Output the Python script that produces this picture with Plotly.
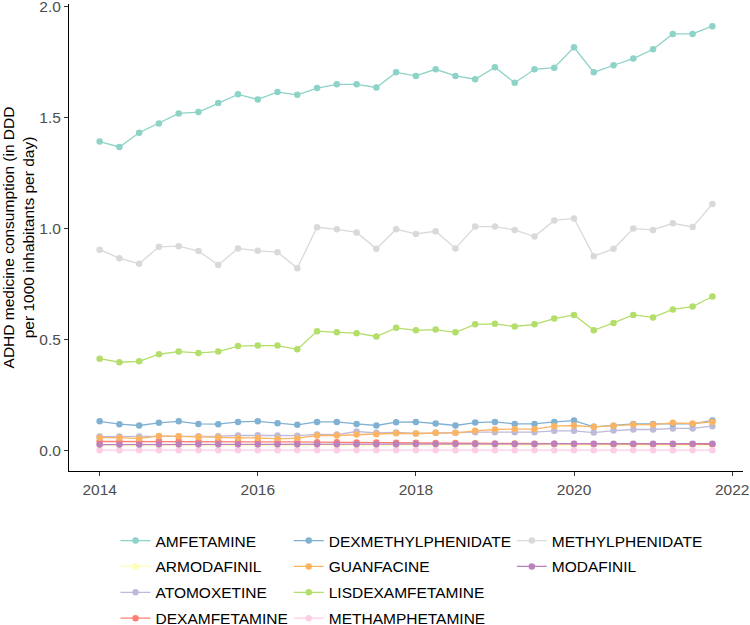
import plotly.graph_objects as go

quarters = [2014.00, 2014.25, 2014.50, 2014.75, 2015.00, 2015.25, 2015.50, 2015.75,
            2016.00, 2016.25, 2016.50, 2016.75, 2017.00, 2017.25, 2017.50, 2017.75,
            2018.00, 2018.25, 2018.50, 2018.75, 2019.00, 2019.25, 2019.50, 2019.75,
            2020.00, 2020.25, 2020.50, 2020.75, 2021.00, 2021.25, 2021.50, 2021.75]

amfetamine = [1.391, 1.367, 1.431, 1.473, 1.518, 1.524, 1.565, 1.604, 1.581, 1.614, 1.602, 1.632,
              1.649, 1.649, 1.635, 1.703, 1.687, 1.717, 1.687, 1.672, 1.726, 1.656, 1.717, 1.724,
              1.816, 1.703, 1.735, 1.765, 1.807, 1.876, 1.876, 1.911]
armodafinil = [0.024, 0.024, 0.024, 0.024, 0.024, 0.024, 0.024, 0.024, 0.024, 0.024, 0.024, 0.024,
               0.024, 0.024, 0.024, 0.024, 0.024, 0.024, 0.024, 0.024, 0.024, 0.024, 0.024, 0.024,
               0.024, 0.024, 0.024, 0.024, 0.024, 0.024, 0.024, 0.024]
atomoxetine = [0.062, 0.062, 0.062, 0.063, 0.063, 0.063, 0.064, 0.067, 0.068, 0.067, 0.066, 0.072,
               0.071, 0.085, 0.079, 0.081, 0.076, 0.079, 0.079, 0.082, 0.082, 0.082, 0.082, 0.088,
               0.088, 0.080, 0.089, 0.094, 0.094, 0.099, 0.099, 0.109]
dexamfetamine = [0.040, 0.040, 0.040, 0.041, 0.041, 0.040, 0.040, 0.039, 0.039, 0.038, 0.038, 0.037,
                 0.036, 0.035, 0.035, 0.034, 0.034, 0.033, 0.033, 0.032, 0.031, 0.031, 0.030, 0.030,
                 0.029, 0.029, 0.028, 0.028, 0.028, 0.027, 0.027, 0.027]
dexmethylphenidate = [0.131, 0.118, 0.112, 0.124, 0.131, 0.119, 0.118, 0.128, 0.131, 0.122, 0.115, 0.128,
                      0.128, 0.119, 0.112, 0.127, 0.128, 0.121, 0.112, 0.125, 0.128, 0.119, 0.119, 0.128,
                      0.134, 0.106, 0.111, 0.119, 0.119, 0.119, 0.119, 0.135]
guanfacine = [0.057, 0.057, 0.053, 0.065, 0.063, 0.060, 0.058, 0.056, 0.056, 0.052, 0.055, 0.067,
              0.067, 0.071, 0.073, 0.077, 0.076, 0.079, 0.079, 0.088, 0.094, 0.096, 0.096, 0.109,
              0.112, 0.106, 0.111, 0.116, 0.116, 0.124, 0.121, 0.128]
lisdexamfetamine = [0.413, 0.397, 0.401, 0.433, 0.445, 0.439, 0.445, 0.470, 0.472, 0.472, 0.455, 0.537,
                    0.532, 0.528, 0.513, 0.552, 0.541, 0.544, 0.532, 0.568, 0.570, 0.558, 0.568, 0.594,
                    0.610, 0.541, 0.574, 0.610, 0.599, 0.635, 0.648, 0.693]
methamphetamine = [0.001, 0.001, 0.001, 0.001, 0.001, 0.001, 0.001, 0.001, 0.001, 0.001, 0.001, 0.001,
                   0.001, 0.001, 0.001, 0.001, 0.001, 0.001, 0.001, 0.001, 0.001, 0.001, 0.001, 0.001,
                   0.001, 0.001, 0.001, 0.001, 0.001, 0.001, 0.001, 0.001]
methylphenidate = [0.904, 0.866, 0.841, 0.917, 0.920, 0.898, 0.835, 0.910, 0.899, 0.893, 0.821, 1.005,
                   0.996, 0.982, 0.908, 0.996, 0.975, 0.987, 0.910, 1.008, 1.008, 0.993, 0.963, 1.036,
                   1.045, 0.875, 0.908, 0.999, 0.993, 1.023, 1.006, 1.110]
modafinil = [0.026, 0.026, 0.026, 0.027, 0.027, 0.027, 0.027, 0.027, 0.027, 0.027, 0.028, 0.028,
             0.028, 0.028, 0.028, 0.028, 0.029, 0.029, 0.029, 0.029, 0.029, 0.029, 0.029, 0.030,
             0.030, 0.030, 0.030, 0.030, 0.030, 0.030, 0.030, 0.030]

names = ["AMFETAMINE", "ARMODAFINIL", "ATOMOXETINE", "DEXAMFETAMINE", "DEXMETHYLPHENIDATE",
         "GUANFACINE", "LISDEXAMFETAMINE", "METHAMPHETAMINE", "METHYLPHENIDATE", "MODAFINIL"]
series = [amfetamine, armodafinil, atomoxetine, dexamfetamine, dexmethylphenidate,
          guanfacine, lisdexamfetamine, methamphetamine, methylphenidate, modafinil]
colors = ["#8DD3C7", "#FFFFB3", "#BEBADA", "#FB8072", "#80B1D3",
          "#FDB462", "#B3DE69", "#FCCDE5", "#D9D9D9", "#BC80BD"]
legend_ids = ["legend", "legend", "legend", "legend",
              "legend2", "legend2", "legend2", "legend2",
              "legend3", "legend3"]

FONT = "Liberation Sans, Arial, sans-serif"

fig = go.Figure()
for name, vals, col, lg in zip(names, series, colors, legend_ids):
    fig.add_trace(go.Scatter(
        x=quarters, y=vals, name=name, mode="lines+markers",
        line=dict(color=col, width=1.3),
        marker=dict(color=col, size=6.5),
        legend=lg, legendgroup=name,
    ))

leg_common = dict(orientation="v", yanchor="top", xanchor="left",
                  font=dict(family=FONT, size=15.5, color="black"),
                  bgcolor="rgba(0,0,0,0)", tracegroupgap=2.7,
                  traceorder="grouped", itemwidth=30)

LEG_Y = -0.1135

fig.update_layout(
    width=750, height=625,
    margin=dict(l=69, r=7, t=4, b=154, autoexpand=False),
    plot_bgcolor="white", paper_bgcolor="white",
    font=dict(family=FONT, size=15, color="black"),
    legend=dict(x=0.069, y=LEG_Y, **leg_common),
    legend2=dict(x=0.326, y=LEG_Y, **leg_common),
    legend3=dict(x=0.657, y=LEG_Y, **leg_common),
    xaxis=dict(
        range=[2013.6125, 2022.1375], tickvals=[2014, 2016, 2018, 2020, 2022],
        showgrid=False, zeroline=False, showline=True, linecolor="black", linewidth=1.1,
        ticks="outside", ticklen=4, tickwidth=1.1, tickcolor="#333333",
        tickfont=dict(family=FONT, size=15.5, color="#4D4D4D"),
        ticklabeloverflow="allow", automargin=False,
    ),
    yaxis=dict(
        range=[-0.093, 2.011], tickvals=[0, 0.5, 1.0, 1.5, 2.0], tickformat=".1f",
        showgrid=False, zeroline=False, showline=True, linecolor="black", linewidth=1.1,
        ticks="outside", ticklen=4, tickwidth=1.1, tickcolor="#333333",
        tickfont=dict(family=FONT, size=15.5, color="#4D4D4D"),
        ticklabeloverflow="allow", automargin=False,
        title=dict(text="ADHD medicine consumption (in DDD<br>per 1000 inhabitants per day)",
                   font=dict(family=FONT, size=15.5, color="black"), standoff=4),
    ),
)

fig.write_html("out.html",
               config={"displayModeBar": False},
               post_script="document.body.style.margin='0';document.body.style.overflow='hidden';")
